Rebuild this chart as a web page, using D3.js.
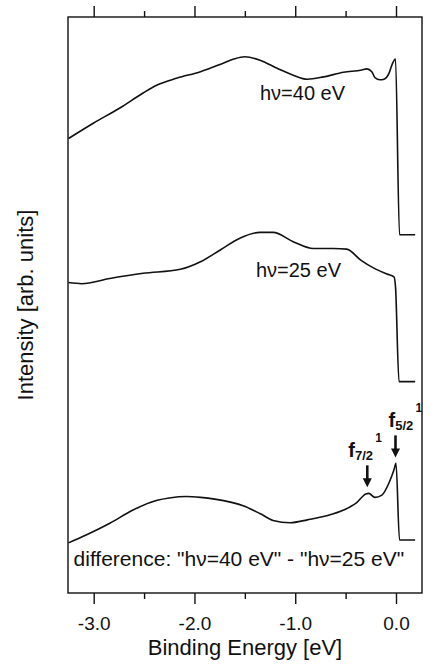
<!DOCTYPE html>
<html>
<head>
<meta charset="utf-8">
<script src="https://cdn.jsdelivr.net/npm/d3@7"></script>
<style>
  body { margin: 0; background: #fff; }
  text { font-family: "Liberation Sans", Arial, sans-serif; fill: #111; }
</style>
</head>
<body>
<div id="chart"></div>
<script>
// spectra (binding energy in eV, intensity in arb. units, offsets as plotted)
var energy40 = [-3.25, -3.0, -2.74, -2.51, -2.37, -2.17, -1.94, -1.74, -1.61, -1.50, -1.35, -1.18, -1.02, -0.88, -0.72, -0.52, -0.34, -0.29, -0.24, -0.21, -0.16, -0.12, -0.07, -0.04, -0.005, 0.035, 0.19];
var intensity40 = [7.89, 8.16, 8.42, 8.68, 8.82, 8.94, 9.05, 9.18, 9.27, 9.31, 9.25, 9.11, 8.99, 8.92, 8.96, 9.04, 9.08, 9.10, 9.05, 8.95, 8.91, 8.92, 9.02, 9.17, 9.27, 6.22, 6.22];

var energy25 = [-3.25, -3.12, -2.84, -2.51, -2.14, -1.94, -1.74, -1.55, -1.35, -1.22, -1.02, -0.82, -0.62, -0.49, -0.35, -0.22, -0.09, -0.02, -0.005, 0.03, 0.19];
var intensity25 = [5.39, 5.37, 5.46, 5.55, 5.62, 5.75, 5.96, 6.16, 6.26, 6.26, 6.10, 5.98, 5.98, 5.97, 5.78, 5.64, 5.54, 5.49, 5.32, 3.67, 3.67];

var energyDiff = [-3.25, -3.07, -2.84, -2.61, -2.37, -2.25, -2.08, -1.94, -1.80, -1.51, -1.35, -1.22, -1.05, -0.88, -0.69, -0.52, -0.39, -0.30, -0.27, -0.21, -0.14, -0.07, -0.02, 0.0, 0.035, 0.19];
var intensityDiff = [0.87, 1.01, 1.21, 1.44, 1.61, 1.65, 1.675, 1.66, 1.63, 1.51, 1.38, 1.26, 1.22, 1.27, 1.34, 1.44, 1.57, 1.72, 1.73, 1.66, 1.70, 1.91, 2.14, 2.25, 0.92, 0.92];

var majorTicks = [-3.0, -2.0, -1.0, 0.0];
var minorTicks = [-2.5, -1.5, -0.5];

// peak markers on the difference spectrum
var peakNames = ["7/2", "5/2"];
var peakEnergy = [-0.285, -0.005];
var peakIntensity = [1.73, 2.25];

// set the dimensions of the canvas
var margin = {top: 17, right: 18, bottom: 71, left: 68},
    width = 440 - margin.left - margin.right,
    height = 664 - margin.top - margin.bottom;

var x = d3.scaleLinear().domain([-3.255, 0.258]).range([0, width]);
var y = d3.scaleLinear().domain([0, 10]).range([height, 0]);

var svg = d3.select("#chart")
  .append("svg")
  .attr("width", 440)
  .attr("height", 664)
  .append("g")
  .attr("transform", "translate(" + margin.left + "," + margin.top + ")");

// axes: labelled major ticks plus short minor ticks, mirrored on top
var fmt = function(d) { return d.toFixed(1); };

svg.append("g")
  .attr("transform", "translate(0," + height + ")")
  .call(d3.axisBottom(x).tickValues(majorTicks).tickFormat(fmt).tickSizeInner(11).tickSizeOuter(0).tickPadding(13))
  .call(function(g) { g.select(".domain").remove(); })
  .selectAll("text")
  .style("font-size", "19px")
  .attr("fill", "#111");

svg.append("g")
  .attr("transform", "translate(0," + height + ")")
  .call(d3.axisBottom(x).tickValues(minorTicks).tickFormat("").tickSizeInner(6).tickSizeOuter(0))
  .call(function(g) { g.select(".domain").remove(); });

svg.append("g")
  .call(d3.axisTop(x).tickValues(majorTicks).tickFormat("").tickSizeInner(11).tickSizeOuter(0))
  .call(function(g) { g.select(".domain").remove(); });

svg.append("g")
  .call(d3.axisTop(x).tickValues(minorTicks).tickFormat("").tickSizeInner(6).tickSizeOuter(0))
  .call(function(g) { g.select(".domain").remove(); });

svg.selectAll(".tick line")
  .attr("stroke", "#111")
  .attr("stroke-width", 1.4);

// frame
svg.append("rect")
  .attr("width", width)
  .attr("height", height)
  .attr("fill", "none")
  .attr("stroke", "#111")
  .attr("stroke-width", 1.4);

// spectra
var line = d3.line()
  .x(function(d) { return x(d[0]); })
  .y(function(d) { return y(d[1]); })
  .curve(d3.curveMonotoneX);

[[energy40, intensity40], [energy25, intensity25], [energyDiff, intensityDiff]].forEach(function(s) {
  svg.append("path")
    .datum(d3.zip(s[0], s[1]))
    .attr("fill", "none")
    .attr("stroke", "#111")
    .attr("stroke-width", 1.6)
    .attr("stroke-linejoin", "round")
    .attr("d", line);
});

// curve labels
svg.append("text")
  .attr("x", x(-1.35))
  .attr("y", y(8.56))
  .style("font-size", "20px")
  .text("h\u03bd=40 eV");

svg.append("text")
  .attr("x", x(-1.39))
  .attr("y", y(5.49))
  .style("font-size", "20px")
  .text("h\u03bd=25 eV");

svg.append("text")
  .attr("x", x(-3.2))
  .attr("y", y(0.47))
  .style("font-size", "21px")
  .text("difference: \"h\u03bd=40 eV\" - \"h\u03bd=25 eV\"");

// arrows and f labels
peakNames.forEach(function(name, i) {
  var px = x(peakEnergy[i]),
      tip = y(peakIntensity[i]) - 6;

  svg.append("line")
    .attr("x1", px).attr("x2", px)
    .attr("y1", tip - 22).attr("y2", tip - 7)
    .attr("stroke", "#111")
    .attr("stroke-width", 2.6);

  svg.append("path")
    .attr("d", "M" + (px - 4.5) + "," + (tip - 9) + "L" + (px + 4.5) + "," + (tip - 9) + "L" + px + "," + tip + "Z")
    .attr("fill", "#111");

  var fx = i === 0 ? px - 19 : px - 7;
  var lab = svg.append("text")
    .attr("x", fx)
    .attr("y", tip - 30)
    .style("font-weight", "bold")
    .style("font-size", "20px");
  lab.append("tspan").text("f");
  lab.append("tspan")
    .attr("dy", 3)
    .style("font-size", "13px")
    .text(name);

  svg.append("text")
    .attr("x", fx + 27)
    .attr("y", tip - 45)
    .style("font-weight", "bold")
    .style("font-size", "12px")
    .text("1");
});

// axis titles
svg.append("text")
  .attr("x", width / 2)
  .attr("y", height + 62)
  .attr("text-anchor", "middle")
  .style("font-size", "22px")
  .text("Binding Energy [eV]");

svg.append("text")
  .attr("transform", "rotate(-90)")
  .attr("x", -height / 2)
  .attr("y", -35)
  .attr("text-anchor", "middle")
  .style("font-size", "22px")
  .text("Intensity [arb. units]");
</script>
</body>
</html>
